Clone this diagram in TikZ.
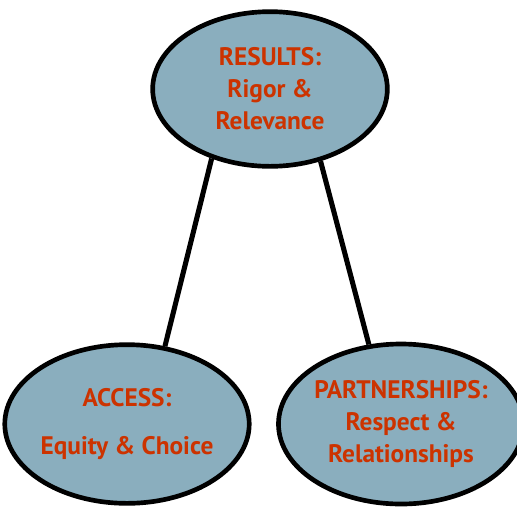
\documentclass[tikz,border=0pt]{standalone}
\usepackage{fontspec}
\setmainfont{PT Sans}
\usetikzlibrary{shapes.geometric}
\definecolor{ovalblue}{HTML}{8AAEBE}
\definecolor{labelred}{HTML}{CC3300}

\begin{document}
\begin{tikzpicture}[
    x=0.75pt, y=-0.75pt,
    oval/.style={
        ellipse,
        draw,
        line width=3.5pt,
        fill=ovalblue,
        align=center,
        text=labelred,
        font=\bfseries\fontsize{19}{24}\selectfont,
        inner sep=0pt
    },
    link/.style={line width=3.8pt}
]
\useasboundingbox (0,0) rectangle (517,508);

% Top oval: results
\node[oval, minimum width=176pt, minimum height=116pt] (results) at (270,89) {
    RESULTS:\\
    Rigor \&\\
    Relevance
};

% Bottom left oval: access
\node[oval, minimum width=176pt, minimum height=119pt] (access) at (127,424) {
    ACCESS:\\[12pt]
    Equity \& Choice
};

% Bottom right oval: partnerships
\node[oval, minimum width=168pt, minimum height=120pt] (partners) at (401,424) {
    PARTNERSHIPS:\\
    Respect \&\\
    Relationships
};

% connectors
\draw[link] (results.230) -- (access.64);
\draw[link] (results.305) -- (partners.112);

\end{tikzpicture}
\end{document}
